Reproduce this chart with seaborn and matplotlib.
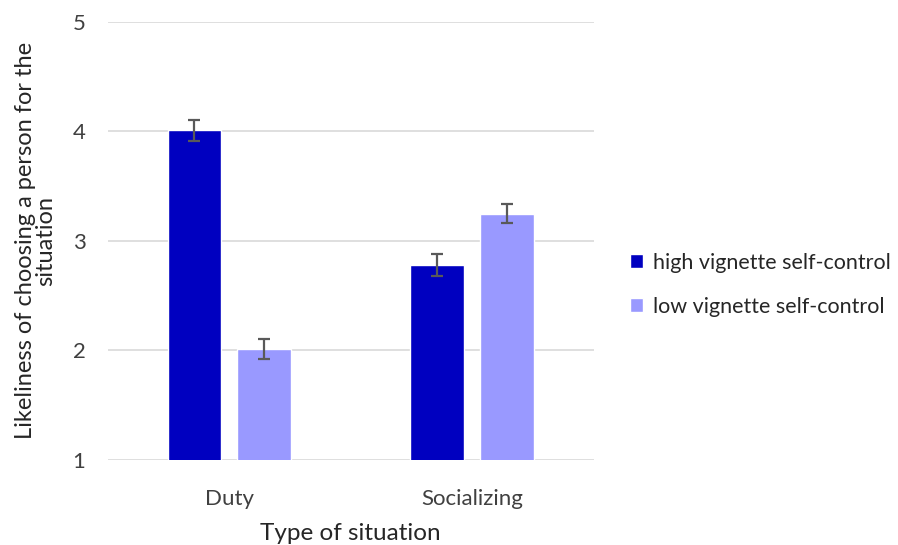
import pandas as pd
import matplotlib.pyplot as plt
import seaborn as sns

# data
situations = ["Duty", "Socializing"]
conditions = ["high vignette self-control", "low vignette self-control"]
high_means = [4.01, 2.78]
low_means = [2.01, 3.25]
high_err = [0.095, 0.10]
low_err = [0.09, 0.09]

df = pd.DataFrame({
    "situation": situations * 2,
    "condition": [conditions[0]] * 2 + [conditions[1]] * 2,
    "value": high_means + low_means,
})
errors = {conditions[0]: high_err, conditions[1]: low_err}

sns.set_theme(style="white")
plt.rcParams['font.family'] = ['Lato', 'DejaVu Sans']

fig = plt.figure(figsize=(8.98, 5.45), dpi=100)
ax = fig.add_axes([0.120, 0.156, 0.541, 0.804])

palette = {conditions[0]: "#0000C0", conditions[1]: "#9999FF"}
sns.barplot(data=df, x="situation", y="value", hue="condition",
            palette=palette, width=0.572, gap=0.224, errorbar=None,
            saturation=1, ax=ax, zorder=2)

# error bars on top of each bar
for cont, cond in zip(ax.containers, conditions):
    for bar, e in zip(cont, errors[cond]):
        ax.errorbar(bar.get_x() + bar.get_width() / 2, bar.get_height(), yerr=e,
                    color="#595959", capsize=4, elinewidth=1.6, capthick=1.6,
                    zorder=3)

ax.set_ylim(1, 5)
ax.set_xlim(-0.5, 1.5)
ax.set_yticks([1, 2, 3, 4, 5])
ax.yaxis.grid(True, color="#d9d9d9", linewidth=1.2, zorder=0)
ax.set_axisbelow(True)
for s in ax.spines.values():
    s.set_visible(False)
ax.tick_params(axis="both", length=0, labelsize=16, colors="#404040")
ax.tick_params(axis="y", pad=16)
ax.tick_params(axis="x", pad=21)

ax.set_xlabel("Type of situation", fontsize=17.5, color="#262626", labelpad=10)
ax.set_ylabel("Likeliness of choosing a person for the\nsituation",
              fontsize=17, color="#262626", labelpad=12, linespacing=0.95)

ax.legend(loc="center left", bbox_to_anchor=(1.035, 0.40), frameon=False,
          fontsize=15.5, handlelength=0.6, handleheight=0.6, handletextpad=0.45,
          labelspacing=1.1, labelcolor="#262626")

plt.savefig("out.png", dpi=100)
